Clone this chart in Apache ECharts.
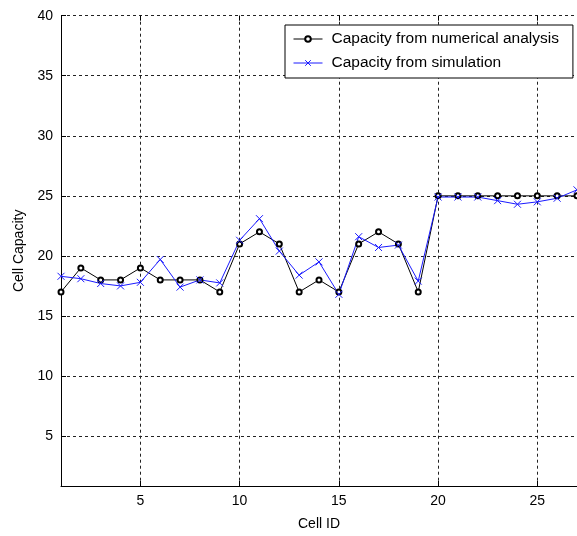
<!DOCTYPE html>
<html>
<head>
<meta charset="utf-8">
<script src="https://cdn.jsdelivr.net/npm/echarts@6/dist/echarts.min.js"></script>
<style>
  html, body { margin: 0; padding: 0; background: #fff; }
  #chart { width: 577px; height: 536px; }
</style>
</head>
<body>
<div id="chart"></div>
<script>
// Cell capacity per cell: analytical estimate vs. simulated result
const cellIds = [1, 2, 3, 4, 5, 6, 7, 8, 9, 10, 11, 12, 13, 14, 15, 16, 17, 18, 19, 20, 21, 22, 23, 24, 25, 26, 27];
const numericalCapacity = [17, 19, 18, 18, 19, 18, 18, 18, 17, 21, 22, 21, 17, 18, 17, 21, 22, 21, 17, 25, 25, 25, 25, 25, 25, 25, 25];
const simulatedCapacity = [18.3, 18.1, 17.7, 17.5, 17.8, 19.7, 17.4, 18.0, 17.75, 21.3, 23.1, 20.4, 18.4, 19.5, 16.8, 21.6, 20.7, 20.9, 17.9, 24.9, 24.9, 24.9, 24.6, 24.3, 24.5, 24.8, 25.5];
const xTicks = [5, 10, 15, 20, 25];
const yTicks = [5, 10, 15, 20, 25, 30, 35, 40];
const seriesNames = ['Capacity from numerical analysis', 'Capacity from simulation'];

const FONT = '"Liberation Sans", Arial, Helvetica, sans-serif';
const pairs = (ys) => cellIds.map((x, i) => [x, ys[i]]);
const gridLine = { show: true, lineStyle: { color: '#222', width: 1, type: [3, 3] } };
const crossMark = 'path://M0,0L10,10M10,0L0,10';

const chart = echarts.init(document.getElementById('chart'), null, { renderer: 'canvas' });
chart.setOption({
  animation: false,
  backgroundColor: '#fff',
  grid: { left: 61, top: 15.7, bottom: 49.3, right: -4, containLabel: false },
  legend: {
    orient: 'vertical',
    left: 285,
    top: 25,
    padding: [6, 14, 7, 8],
    itemGap: 8,
    itemWidth: 29,
    itemHeight: 7,
    backgroundColor: '#fff',
    borderColor: '#000',
    borderWidth: 1,
    borderRadius: 0,
    lineStyle: { width: 1 },
    itemStyle: { borderWidth: 1 },
    textStyle: { fontFamily: FONT, fontSize: 15.5, lineHeight: 14, color: '#000', padding: [0, 0, 0, 4] },
    data: seriesNames
  },
  xAxis: [{
    type: 'value',
    min: 1,
    max: 27,
    name: 'Cell ID',
    nameLocation: 'middle',
    nameGap: 31,
    nameTextStyle: { fontFamily: FONT, fontSize: 14, color: '#000' },
    axisLine: { show: true, onZero: false, lineStyle: { color: '#000', width: 1 } },
    axisTick: { show: true, inside: true, length: 5, customValues: xTicks, lineStyle: { color: '#000' } },
    axisLabel: { customValues: xTicks, fontFamily: FONT, fontSize: 14, color: '#000', margin: 8 },
    splitLine: gridLine
  }, {
    type: 'value',
    position: 'top',
    min: 1,
    max: 27,
    axisLine: { show: false },
    axisTick: { show: true, inside: true, length: 5, customValues: xTicks, lineStyle: { color: '#000' } },
    axisLabel: { show: false, customValues: xTicks },
    splitLine: { show: false }
  }],
  yAxis: {
    type: 'value',
    min: 0.84,
    max: 40,
    name: 'Cell Capacity',
    nameLocation: 'middle',
    nameGap: 32,
    nameRotate: 90,
    nameTextStyle: { fontFamily: FONT, fontSize: 14, color: '#000' },
    axisLine: { show: true, onZero: false, lineStyle: { color: '#000', width: 1 } },
    axisTick: { show: true, inside: true, length: 5, customValues: yTicks, lineStyle: { color: '#000' } },
    axisLabel: { customValues: yTicks, fontFamily: FONT, fontSize: 14, color: '#000', margin: 8 },
    splitLine: gridLine
  },
  series: [{
    name: seriesNames[0],
    type: 'line',
    data: pairs(numericalCapacity),
    symbol: 'emptyCircle',
    symbolSize: 5,
    showAllSymbol: true,
    lineStyle: { color: '#000', width: 1 },
    itemStyle: { color: '#000', borderColor: '#000', borderWidth: 1 },
    emphasis: { disabled: true }
  }, {
    name: seriesNames[1],
    type: 'line',
    data: pairs(simulatedCapacity),
    symbol: crossMark,
    symbolSize: 7,
    showAllSymbol: true,
    lineStyle: { color: '#1a1aff', width: 1 },
    itemStyle: { color: 'none', borderColor: '#1a1aff', borderWidth: 1 },
    emphasis: { disabled: true }
  }]
});
</script>
</body>
</html>
